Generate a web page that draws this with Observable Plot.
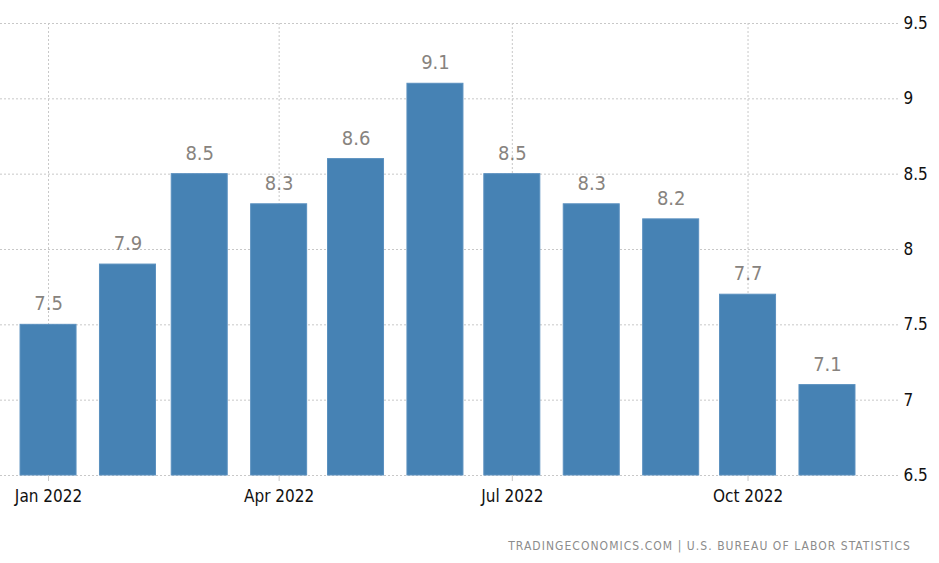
<!DOCTYPE html>
<html>
<head>
<meta charset="utf-8">
<script src="https://cdn.jsdelivr.net/npm/d3@7"></script>
<script src="https://cdn.jsdelivr.net/npm/@observablehq/plot@0.6"></script>
<style>
  html, body { margin: 0; padding: 0; background: #fff; }
  #wrap { position: relative; width: 939px; height: 563px; }
  #caption {
    position: absolute; right: 28px; top: 539px;
    font-family: "DejaVu Sans Condensed", "DejaVu Sans", sans-serif;
    font-size: 12px; letter-spacing: 1.05px; color: #8c8c8c; white-space: nowrap;
  }
</style>
</head>
<body>
<div id="wrap">
  <div id="chart"></div>
  <div id="caption">TRADINGECONOMICS.COM | U.S. BUREAU OF LABOR STATISTICS</div>
</div>
<script>
const months = ["2022-01","2022-02","2022-03","2022-04","2022-05","2022-06","2022-07","2022-08","2022-09","2022-10","2022-11"];
const values = [7.5, 7.9, 8.5, 8.3, 8.6, 9.1, 8.5, 8.3, 8.2, 7.7, 7.1];
const yTicks = [6.5, 7, 7.5, 8, 8.5, 9, 9.5];
const xTickMonths = ["2022-01","2022-04","2022-07","2022-10"];
const yMin = 6.5, yMax = 9.5;

const parse = s => { const [y, m] = s.split("-").map(Number); return new Date(Date.UTC(y, m - 1, 1)); };
const data = months.map((m, i) => ({date: parse(m), value: values[i]}));
const xTicks = xTickMonths.map(parse);

const axisFont = "'DejaVu Sans Condensed', 'DejaVu Sans', sans-serif";
const labelFont = "'DejaVu Sans Condensed', 'DejaVu Sans', sans-serif";

const chart = Plot.plot({
  width: 939,
  height: 522,
  marginTop: 23,
  marginBottom: 47,
  marginLeft: 0,
  marginRight: 39,
  style: {background: "#fff", overflow: "visible"},
  x: {type: "utc", label: null, domain: [new Date(Date.UTC(2021, 11, 13, 6)), new Date(Date.UTC(2022, 10, 29, 12))]},
  y: {label: null, domain: [yMin, yMax]},
  marks: [
    Plot.gridY(yTicks, {stroke: "#c8c8c8", strokeOpacity: 1, strokeDasharray: "2,2"}),
    Plot.gridX(xTicks, {stroke: "#c8c8c8", strokeOpacity: 1, strokeDasharray: "2,2"}),
    Plot.rect(data, {x1: "date", x2: "date", y1: yMin, y2: "value", insetLeft: -28, insetRight: -28, fill: "#4682b4", stroke: "#5a90bf", strokeWidth: 1}),
    Plot.text(data, {x: "date", y: "value", text: d => d.value.toFixed(1), dy: -21, fill: "#87837e", fontSize: 20, fontFamily: labelFont}),
    Plot.axisY({anchor: "right", label: null, ticks: yTicks, tickSize: 0, tickPadding: 3, tickFormat: d => String(d), fontSize: 17, fontFamily: axisFont, fill: "#111"}),
    Plot.axisX({label: null, ticks: xTicks, tickFormat: "%b %Y", tickSize: 6, tickPadding: 8, stroke: "#c8c8c8", fontSize: 17, fontFamily: axisFont, fill: "#111"})
  ]
});
document.getElementById("chart").appendChild(chart);
</script>
</body>
</html>
